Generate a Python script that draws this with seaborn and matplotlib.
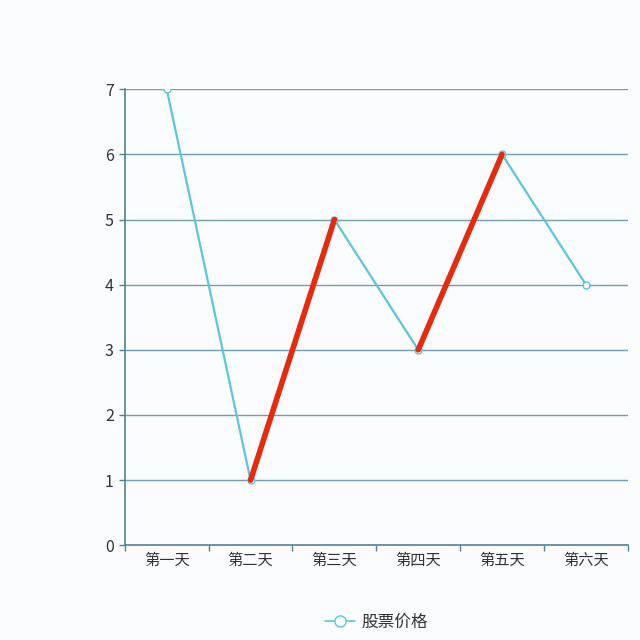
import matplotlib
matplotlib.use('Agg')
import matplotlib.pyplot as plt
import numpy as np
import pandas as pd
import seaborn as sns
from matplotlib.lines import Line2D

days = ['第一天', '第二天', '第三天', '第四天', '第五天', '第六天']
prices = [7, 1, 5, 3, 6, 4]
series_name = '股票价格'

sns.set_style('white')
plt.rcParams['font.family'] = ['Noto Sans CJK SC', 'DejaVu Sans']

df = pd.DataFrame({'day': days, 'price': prices, 'x': range(len(days))})

fig = plt.figure(figsize=(6.4, 6.4), dpi=100, facecolor='#fbfcfd')
ax = fig.add_axes([0.195, 0.148, 0.786, 0.7125])
ax.set_facecolor('#fbfcfd')

line_color = '#5cc6dc'
grid_color = '#6f9fb0'
axis_color = '#4f8299'

sns.lineplot(data=df, x='x', y='price', ax=ax, color=line_color, linewidth=1.6,
             marker='o', markersize=5, markerfacecolor='white',
             markeredgecolor=line_color, markeredgewidth=1, legend=False,
             zorder=3)

# rising segments highlighted in red
for i in range(len(prices) - 1):
    if prices[i + 1] > prices[i]:
        seg = df.iloc[i:i + 2]
        sns.lineplot(data=seg, x='x', y='price', ax=ax, color='#e8290b',
                     linewidth=4, legend=False, zorder=4)

ax.set_xlim(-0.5, len(days) - 0.5)
ax.set_ylim(0, 7)
ax.set_yticks(range(0, 8))
ax.set_xticks(range(len(days)))
ax.set_xticklabels(days, fontsize=11, color='#333333')
ax.set_xticks(np.arange(-0.5, len(days), 1), minor=True)
ax.tick_params(axis='x', which='major', bottom=False, length=0, pad=5)
ax.tick_params(axis='x', which='minor', bottom=True, length=4, width=1,
               color=axis_color, direction='out')
ax.tick_params(axis='y', left=True, length=4, width=1, color=axis_color,
               labelsize=11.5, labelcolor='#333333', pad=4)
ax.set_xlabel('')
ax.set_ylabel('')

for y in range(1, 8):
    ax.axhline(y, color=grid_color, linewidth=1, zorder=1)

for s in ['top', 'right']:
    ax.spines[s].set_visible(False)
for s in ['left', 'bottom']:
    ax.spines[s].set_color(axis_color)
    ax.spines[s].set_linewidth(1.2)

handle = Line2D([], [], color=line_color, linewidth=1.2, marker='o', markersize=8,
                markerfacecolor='white', markeredgecolor=line_color, markeredgewidth=1)
leg = ax.legend([handle], [series_name], loc='center',
                bbox_to_anchor=(0.5, -0.17), frameon=False,
                fontsize=12, handlelength=1.8, handletextpad=0.4)
for t in leg.get_texts():
    t.set_color('#333333')

fig.savefig('out.png', dpi=100, facecolor=fig.get_facecolor())
